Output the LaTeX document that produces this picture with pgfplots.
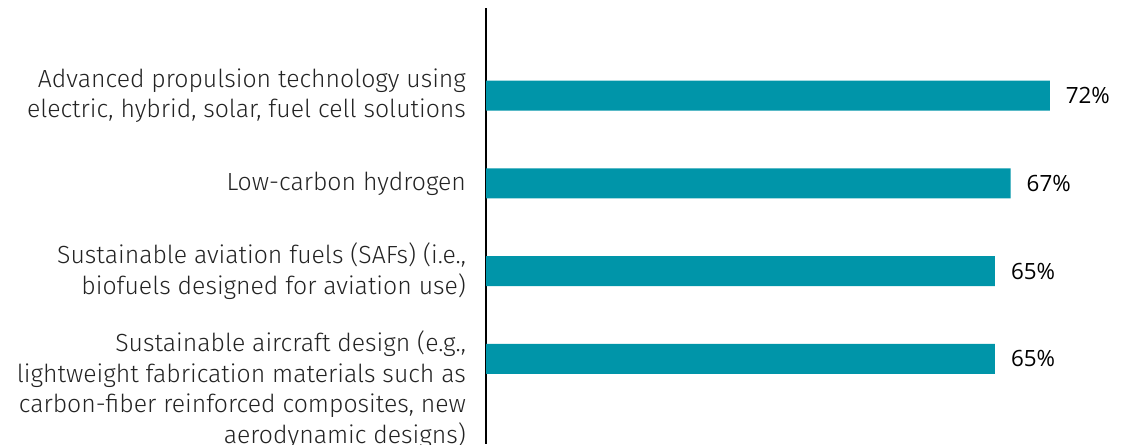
\documentclass[border=0pt]{standalone}
\usepackage{fontspec}
\setmainfont{Fira Sans}[UprightFont=* Light]
\newfontfamily\valfont{Open Sans}
\usepackage{pgfplots}
\pgfplotsset{compat=1.18}
\definecolor{barteal}{RGB}{0,149,169}
\definecolor{labgray}{RGB}{35,35,35}
\begin{document}
\begin{tikzpicture}[x=0.75pt,y=0.75pt]
\clip (0,0) rectangle (1127,444);
\begin{axis}[
  at={(364.5pt,0pt)}, anchor=south west,
  width=480.75pt, height=327pt, scale only axis,
  xmin=0, xmax=81.86, ymin=-1, ymax=3.97, y dir=reverse,
  axis y line=left, axis x line=none,
  axis line style={-, black, line width=1.1pt},
  xtick=\empty, ytick=\empty,
  clip=false,
  xbar, bar width=22.5pt,
  point meta=x,
  /pgf/number format/assume math mode=true,
  nodes near coords={\valfont\pgfmathprintnumber{\pgfplotspointmeta}\%},
  every node near coord/.append style={font=\fontsize{16.8pt}{19pt}\selectfont, black, anchor=west, xshift=8.5pt},
]
\addplot[fill=barteal, draw=none] coordinates {(72,0) (67,1) (65,2) (65,3)};

\begin{scope}[every node/.style={anchor=east, align=right, text=labgray, xshift=-11.5pt, font=\fontsize{18.6pt}{22.8pt}\selectfont}]
\node at (axis cs:0,0) {Advanced propulsion technology using\\electric, hybrid, solar, fuel cell solutions};
\node at (axis cs:0,1) {Low-carbon hydrogen};
\node at (axis cs:0,2) {Sustainable aviation fuels (SAFs) (i.e.,\\biofuels designed for aviation use)};
\node at (axis cs:0,3.35) {Sustainable aircraft design (e.g.,\\lightweight fabrication materials such as\\carbon-fiber reinforced composites, new\\aerodynamic designs)};
\end{scope}
\end{axis}
\end{tikzpicture}
\end{document}
